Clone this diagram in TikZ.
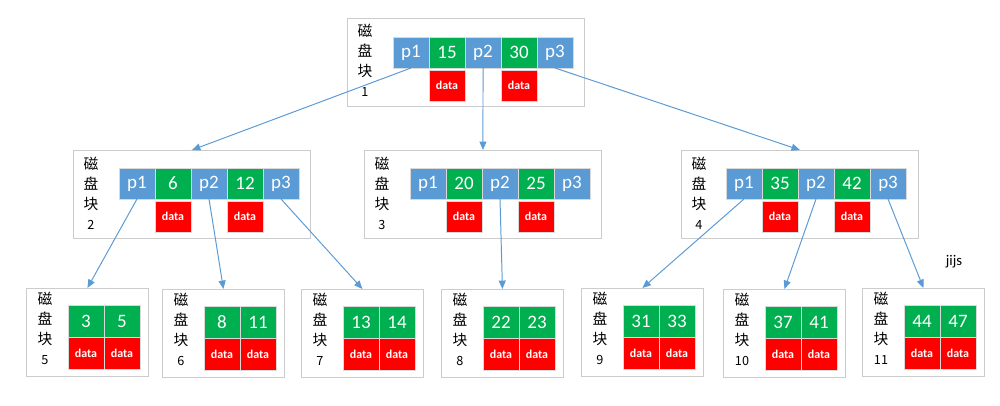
\documentclass[tikz,border=0pt]{standalone}
\usepackage{fontspec}
\setmainfont{Carlito}
\newfontfamily\cjk{Noto Sans CJK SC}
\usetikzlibrary{arrows.meta, positioning}

\definecolor{ptrblue}{RGB}{91,155,213}
\definecolor{keygreen}{RGB}{0,176,80}
\definecolor{datred}{RGB}{255,0,0}

\begin{document}
\begin{tikzpicture}[
    x=0.025cm, y=-0.025cm,
    % Styles
    cell/.style={
        rectangle, draw=white!85!black, fill=#1, text=white, line width=0.4pt,
        minimum width=0.9cm, minimum height=0.775cm, inner sep=0pt, outer sep=0pt,
        font=\fontsize{13.5}{13.5}\selectfont
    },
    ptr/.style={cell=ptrblue},
    key/.style={cell=keygreen},
    dat/.style={cell=datred, font=\bfseries\fontsize{8.5}{9}\selectfont},
    block/.style={
        rectangle, draw=black!20, fill=white, line width=0.6pt, anchor=north west,
        minimum width=5.925cm, minimum height=2.2cm, inner sep=0pt
    },
    leaf/.style={block, minimum width=3.05cm},
    disk/.style={
        font=\cjk\fontsize{10.5}{14.2}\selectfont, align=center, inner sep=0pt
    },
    arrow/.style={
        -{Triangle[length=6pt, width=5pt]}, line width=0.7pt, draw=ptrblue
    },
    node distance=0pt
]
\useasboundingbox (0,0) rectangle (1000,406);

% ── Root ────────────────────────────────────────────────────────────────────
\node[block] (blk1) at (347,18) {};
\node[disk] (lbl1) at (365,60) {磁\\盘\\块\\{\fontsize{9}{9}\selectfont 1}};
\node[ptr, anchor=north west] (b1p1) at (393,37) {p1};
\node[key, right=of b1p1] (b1k1) {15};
\node[ptr, right=of b1k1] (b1p2) {p2};
\node[key, right=of b1p2] (b1k2) {30};
\node[ptr, right=of b1k2] (b1p3) {p3};
\node[dat, below=0.05cm of b1k1] (b1d1) {data};
\node[dat, below=0.05cm of b1k2] (b1d2) {data};

% ── Second level ────────────────────────────────────────────────────────────
\node[block] (blk2) at (73,150) {};
\node[disk] (lbl2) at (91,193) {磁\\盘\\块\\{\fontsize{9}{9}\selectfont 2}};
\node[ptr, anchor=north west] (b2p1) at (119,168) {p1};
\node[key, right=of b2p1] (b2k1) {6};
\node[ptr, right=of b2k1] (b2p2) {p2};
\node[key, right=of b2p2] (b2k2) {12};
\node[ptr, right=of b2k2] (b2p3) {p3};
\node[dat, below=0.05cm of b2k1] (b2d1) {data};
\node[dat, below=0.05cm of b2k2] (b2d2) {data};

\node[block] (blk3) at (364,150) {};
\node[disk] (lbl3) at (382,193) {磁\\盘\\块\\{\fontsize{9}{9}\selectfont 3}};
\node[ptr, anchor=north west] (b3p1) at (410,168) {p1};
\node[key, right=of b3p1] (b3k1) {20};
\node[ptr, right=of b3k1] (b3p2) {p2};
\node[key, right=of b3p2] (b3k2) {25};
\node[ptr, right=of b3k2] (b3p3) {p3};
\node[dat, below=0.05cm of b3k1] (b3d1) {data};
\node[dat, below=0.05cm of b3k2] (b3d2) {data};

\node[block] (blk4) at (681,150) {};
\node[disk] (lbl4) at (699,193) {磁\\盘\\块\\{\fontsize{9}{9}\selectfont 4}};
\node[ptr, anchor=north west] (b4p1) at (726,168) {p1};
\node[key, right=of b4p1] (b4k1) {35};
\node[ptr, right=of b4k1] (b4p2) {p2};
\node[key, right=of b4p2] (b4k2) {42};
\node[ptr, right=of b4k2] (b4p3) {p3};
\node[dat, below=0.05cm of b4k1] (b4d1) {data};
\node[dat, below=0.05cm of b4k2] (b4d2) {data};

% ── Leaves ──────────────────────────────────────────────────────────────────
\node[leaf] (blk5) at (26,288) {};
\node[disk] (lbl5) at (45,328) {磁\\盘\\块\\{\fontsize{9}{9}\selectfont 5}};
\node[key, anchor=north west, minimum height=0.8cm] (b5k1) at (68,305) {3};
\node[key, minimum height=0.8cm, right=of b5k1] (b5k2) {5};
\node[dat, minimum height=0.8cm, below=of b5k1] (b5d1) {data};
\node[dat, minimum height=0.8cm, below=of b5k2] (b5d2) {data};

\node[leaf] (blk6) at (162,289) {};
\node[disk] (lbl6) at (181,329) {磁\\盘\\块\\{\fontsize{9}{9}\selectfont 6}};
\node[key, anchor=north west, minimum height=0.8cm] (b6k1) at (204,306) {8};
\node[key, minimum height=0.8cm, right=of b6k1] (b6k2) {11};
\node[dat, minimum height=0.8cm, below=of b6k1] (b6d1) {data};
\node[dat, minimum height=0.8cm, below=of b6k2] (b6d2) {data};

\node[leaf] (blk7) at (301,289) {};
\node[disk] (lbl7) at (320,329) {磁\\盘\\块\\{\fontsize{9}{9}\selectfont 7}};
\node[key, anchor=north west, minimum height=0.8cm] (b7k1) at (343,306) {13};
\node[key, minimum height=0.8cm, right=of b7k1] (b7k2) {14};
\node[dat, minimum height=0.8cm, below=of b7k1] (b7d1) {data};
\node[dat, minimum height=0.8cm, below=of b7k2] (b7d2) {data};

\node[leaf] (blk8) at (441,289) {};
\node[disk] (lbl8) at (460,329) {磁\\盘\\块\\{\fontsize{9}{9}\selectfont 8}};
\node[key, anchor=north west, minimum height=0.8cm] (b8k1) at (483,306) {22};
\node[key, minimum height=0.8cm, right=of b8k1] (b8k2) {23};
\node[dat, minimum height=0.8cm, below=of b8k1] (b8d1) {data};
\node[dat, minimum height=0.8cm, below=of b8k2] (b8d2) {data};

\node[leaf] (blk9) at (581,288) {};
\node[disk] (lbl9) at (600,328) {磁\\盘\\块\\{\fontsize{9}{9}\selectfont 9}};
\node[key, anchor=north west, minimum height=0.8cm] (b9k1) at (623,305) {31};
\node[key, minimum height=0.8cm, right=of b9k1] (b9k2) {33};
\node[dat, minimum height=0.8cm, below=of b9k1] (b9d1) {data};
\node[dat, minimum height=0.8cm, below=of b9k2] (b9d2) {data};

\node[leaf] (blk10) at (723,289) {};
\node[disk] (lbl10) at (742,329) {磁\\盘\\块\\{\fontsize{9}{9}\selectfont 10}};
\node[key, anchor=north west, minimum height=0.8cm] (b10k1) at (765,306) {37};
\node[key, minimum height=0.8cm, right=of b10k1] (b10k2) {41};
\node[dat, minimum height=0.8cm, below=of b10k1] (b10d1) {data};
\node[dat, minimum height=0.8cm, below=of b10k2] (b10d2) {data};

\node[leaf] (blk11) at (862,288) {};
\node[disk] (lbl11) at (881,328) {磁\\盘\\块\\{\fontsize{9}{9}\selectfont 11}};
\node[key, anchor=north west, minimum height=0.8cm] (b11k1) at (904,305) {44};
\node[key, minimum height=0.8cm, right=of b11k1] (b11k2) {47};
\node[dat, minimum height=0.8cm, below=of b11k1] (b11d1) {data};
\node[dat, minimum height=0.8cm, below=of b11k2] (b11d2) {data};

\node[font=\fontsize{10.5}{12}\selectfont] (mark) at (954,262) {jijs};

% ── Arrows ──────────────────────────────────────────────────────────────────
\draw[arrow] (b1p1.south) -- (blk2.north);
\draw[arrow] (b1p2.south) -- (blk3.north);
\draw[arrow] (b1p3.south) -- (blk4.north);

\draw[arrow] (b2p1.south) -- (blk5.north);
\draw[arrow] (b2p2.south) -- (blk6.north);
\draw[arrow] (b2p3.south) -- (blk7.north);
\draw[arrow] (b3p2.south) -- (blk8.north);
\draw[arrow] (b4p1.south) -- (blk9.north);
\draw[arrow] (b4p2.south) -- (blk10.north);
\draw[arrow] (b4p3.south) -- (blk11.north);

\end{tikzpicture}
\end{document}
